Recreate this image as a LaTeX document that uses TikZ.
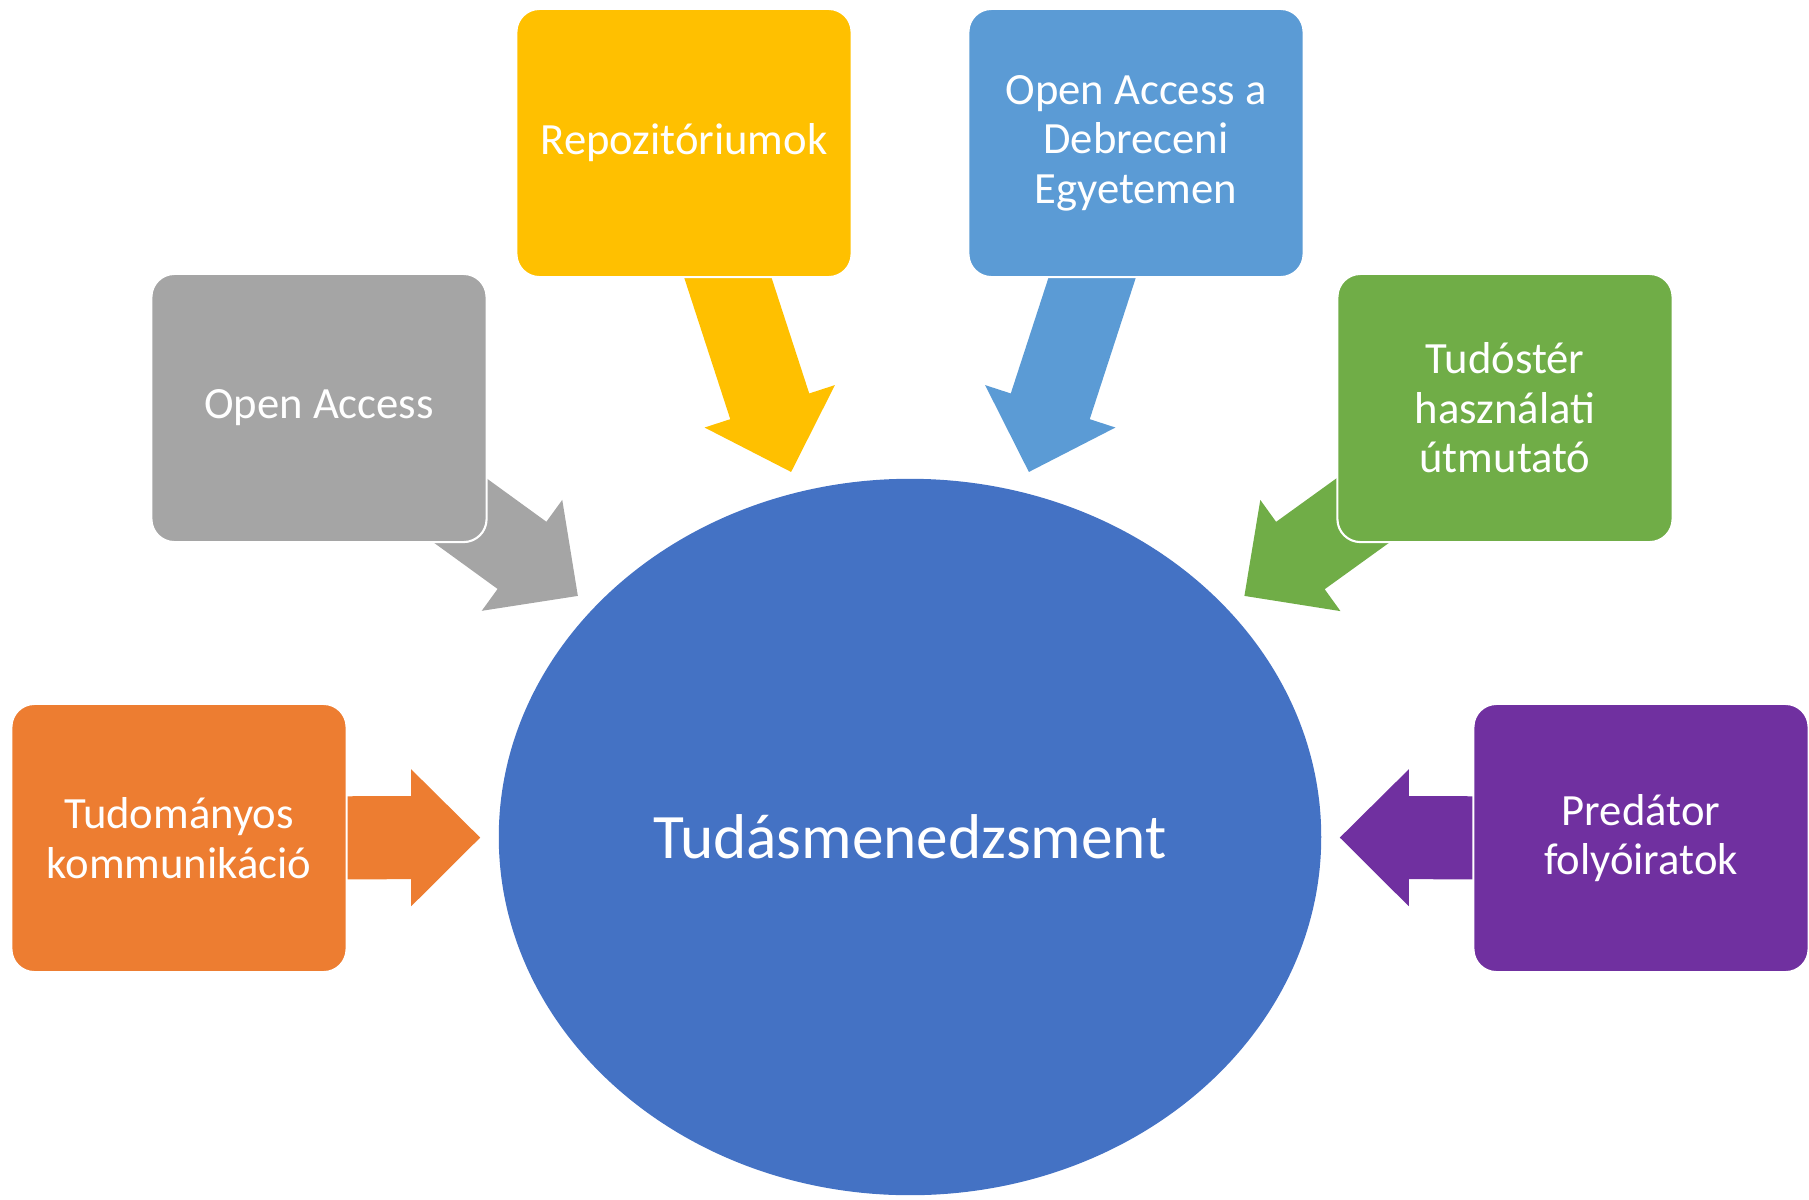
\documentclass[tikz,border=0pt]{standalone}
\usepackage{fontspec}
\setmainfont{Carlito}
\usetikzlibrary{shapes.geometric, calc, backgrounds}
\definecolor{hubblue}{HTML}{4472C4}
\definecolor{oagray}{HTML}{A5A5A5}
\definecolor{repoyellow}{HTML}{FFC000}
\definecolor{debblue}{HTML}{5B9BD5}
\definecolor{tudgreen}{HTML}{70AD47}
\definecolor{komorange}{HTML}{ED7D31}
\definecolor{predpurple}{HTML}{7030A0}
\tikzset{
	topic/.style={draw=white, line width=0.6pt, rectangle, rounded corners=0.23cm, minimum width=3.35cm, minimum height=2.68cm, inner sep=2pt, align=center, text=white, font=\fontsize{12.7}{14.05}\selectfont},
	hub/.style={ellipse, inner sep=0pt, minimum width=8.22cm, minimum height=7.16cm, fill=hubblue, text=white, font=\fontsize{18}{21}\selectfont},
}
% block arrow from a topic box towards the hub, cut at fraction #4
\newcommand{\feedarrow}[4]{%
	\coordinate (#2-tip) at ($(#2.center)!#4!(#3.center)$);
	\coordinate (#2-base) at ($(#2-tip)!0.69cm!(#2.center)$);
	\fill[#1] ($(#2.center)!0.415cm!-90:(#2-base)$) -- ($(#2-base)!0.415cm!90:(#2.center)$) -- ($(#2-base)!0.685cm!90:(#2.center)$) -- (#2-tip) -- ($(#2-base)!0.685cm!-90:(#2.center)$) -- ($(#2-base)!0.415cm!-90:(#2.center)$) -- ($(#2.center)!0.415cm!90:(#2-base)$) -- cycle;
}
\begin{document}
\begin{tikzpicture}[x=0.01cm, y=-0.01cm]
	\useasboundingbox (0,0) rectangle (1809,1200);
	
	\node (hub) [hub] at (910,837) {Tudásmenedzsment};
	
	\node (repo) [topic, fill=repoyellow] at (684,143) {Repozitóriumok};
	\node (deb) [topic, fill=debblue] at (1136,143) {Open Access a\\Debreceni\\Egyetemen};
	\node (oa) [topic, fill=oagray] at (319,408) {Open Access};
	\node (tud) [topic, fill=tudgreen] at (1505,408) {Tudóstér\\használati\\útmutató};
	\node (kom) [topic, fill=komorange] at (179,838) {Tudományos\\kommunikáció};
	\node (pred) [topic, fill=predpurple] at (1641,838) {Predátor\\folyóiratok};
	
	\begin{scope}[on background layer]
		\feedarrow{oagray}{oa}{hub}{0.438}
		\feedarrow{repoyellow}{repo}{hub}{0.474}
		\feedarrow{debblue}{deb}{hub}{0.474}
		\feedarrow{tudgreen}{tud}{hub}{0.438}
		\feedarrow{komorange}{kom}{hub}{0.412}
		\feedarrow{predpurple}{pred}{hub}{0.412}
	\end{scope}
\end{tikzpicture}
\end{document}
